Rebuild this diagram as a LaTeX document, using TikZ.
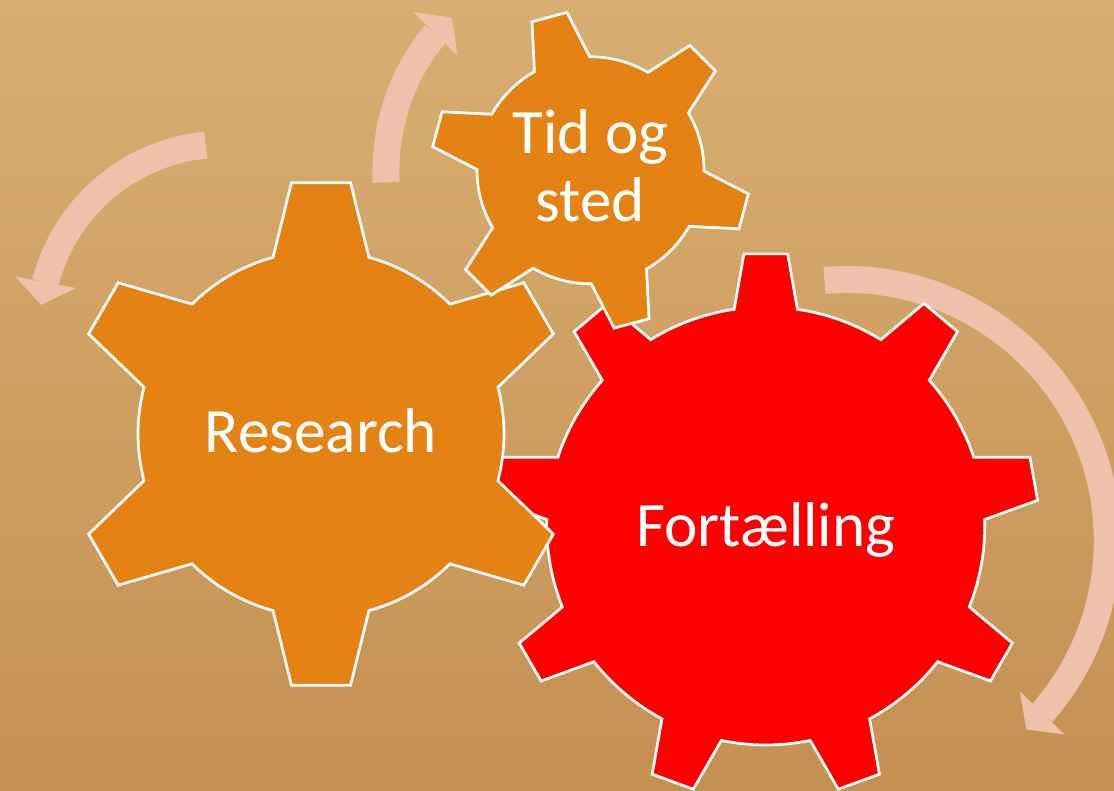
\documentclass[tikz,border=0pt]{standalone}
\usepackage{fontspec}
\setmainfont{Carlito}
\usetikzlibrary{arrows.meta,bending}
\definecolor{paperlight}{RGB}{217,174,114}
\definecolor{papermid}{RGB}{207,160,98}
\definecolor{paperdark}{RGB}{196,144,82}
\definecolor{gearorange}{RGB}{228,131,20}
\definecolor{gearred}{RGB}{255,0,0}
\definecolor{turnpink}{RGB}{239,193,170}
\tikzset{
gear/.style={draw=white,line width=2.7pt,line join=miter},
gearlabel/.style={text=white,font=\fontsize{63.2}{68.4}\selectfont,align=center},
turn/.style={draw=turnpink,line width=27pt,->}
}
\begin{document}
\begin{tikzpicture}[x=1pt,y=1pt,>={Triangle[width=62pt,length=23pt,line width=0pt]}]
\useasboundingbox (0,0) rectangle (1114,791);
\shade[top color=paperlight,middle color=papermid,bottom color=paperdark] (0,0) rectangle (1114,791);
% arrows
\draw[turn] (223.7,462.8) ++(95.6:184) arc[start angle=95.6,end angle=172.7,radius=184];
\draw[turn] (558.9,618.9) ++({173*cos(183)},{197*sin(183)}) arc[start angle=183,end angle=128.3,x radius=173,y radius=197];
\draw[turn] (846.3,250.5) ++(94.8:261) arc[start angle=94.8,end angle=-46.4,radius=261];
% Fortaelling
\begin{scope}[shift={(765.8,265)}]
\filldraw[gear,fill=gearred] (81.7:219) \foreach \a in {90,130,...,410}{
 -- ({\a-4.6}:273) -- ({\a+4.6}:273) -- ({\a+8.3}:219) arc[start angle=\a+8.3,end angle=\a+31.7,radius=219]} -- cycle;
\end{scope}
% Research
\begin{scope}[shift={(321,357)}]
\filldraw[gear,fill=gearorange] (74.8:183) \foreach \a in {90,150,...,390}{
 -- ({\a-6.7}:253) -- ({\a+6.7}:253) -- ({\a+15.2}:183) arc[start angle=\a+15.2,end angle=\a+44.8,radius=183]} -- cycle;
\end{scope}
% Tid og sted
\begin{scope}[shift={(590.5,620.7)}]
\filldraw[gear,fill=gearorange] (30.4:113.5) \foreach \a in {45,105,...,345}{
 -- ({\a-6.5}:159.6) -- ({\a+6.5}:159.6) -- ({\a+14.6}:113.5) arc[start angle=\a+14.6,end angle=\a+45.4,radius=113.5]} -- cycle;
\end{scope}
\node[gearlabel] (research) at (321,360) {Research};
\node[gearlabel] (tidsted) at (590.5,625) {Tid og\\sted};
\node[gearlabel] (fortaelling) at (765.8,261.3) {Fortælling};
\end{tikzpicture}
\end{document}
